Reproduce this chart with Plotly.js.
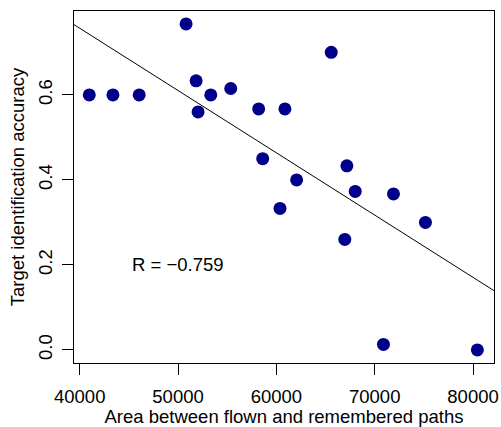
<!DOCTYPE html>
<html>
<head>
<meta charset="utf-8">
<script src="https://cdn.plot.ly/plotly-3.0.1.min.js"></script>
<style>html,body{margin:0;padding:0;background:#fff;}#chart{width:501px;height:427px;}</style>
</head>
<body>
<div id="chart"></div>
<script>
// Data
const areaValues = [40975, 43380, 46050, 50820, 51840, 52040, 53330, 55360, 58200, 60870, 65580,
                    58610, 62060, 67170, 68020, 71910, 60370, 66960, 75160, 70890, 80440];
const accuracyValues = [0.600, 0.600, 0.600, 0.767, 0.633, 0.560, 0.600, 0.615, 0.567, 0.567, 0.700,
                        0.450, 0.400, 0.433, 0.373, 0.367, 0.333, 0.260, 0.300, 0.013, 0.000];
const xTickVals = [40000, 50000, 60000, 70000, 80000];
const yTickVals = [0.0, 0.2, 0.4, 0.6];
const yTickText = ["0.0", "0.2", "0.4", "0.6"];
const corrLabel = "R = \u22120.759";

const xRange = [39421, 82132];
const yRange = [-0.0307, 0.7973];

// least squares fit (like abline(lm(...)))
const n = areaValues.length;
const mx = areaValues.reduce((a, b) => a + b, 0) / n;
const my = accuracyValues.reduce((a, b) => a + b, 0) / n;
let sxy = 0, sxx = 0;
for (let i = 0; i < n; i++) { sxy += (areaValues[i] - mx) * (accuracyValues[i] - my); sxx += (areaValues[i] - mx) ** 2; }
const slope = sxy / sxx, intercept = my - slope * mx;

const font = {family: "Liberation Sans, Arial, sans-serif", size: 18.5, color: "#000"};

const traces = [
  {x: xRange, y: xRange.map(v => intercept + slope * v), mode: "lines", type: "scatter",
   line: {color: "#000", width: 1}, hoverinfo: "skip", cliponaxis: true},
  {x: areaValues, y: accuracyValues, mode: "markers", type: "scatter",
   marker: {color: "#00008B", size: 13}}
];

const layout = {
  width: 501, height: 427,
  margin: {l: 74, r: 7, t: 11, b: 64, pad: 0},
  paper_bgcolor: "#fff", plot_bgcolor: "#fff",
  showlegend: false,
  font: font,
  xaxis: {range: xRange, tickvals: xTickVals, ticktext: xTickVals.map(String),
          showgrid: false, zeroline: false, showline: true, mirror: true, linecolor: "#000", linewidth: 1,
          ticks: "outside", ticklen: 11, tickcolor: "#000", tickwidth: 1, tickfont: font, ticklabelstandoff: 6,
          title: {text: "Area between flown and remembered paths", font: font, standoff: 12}},
  yaxis: {range: yRange, tickvals: yTickVals, ticktext: yTickText, tickangle: -90,
          showgrid: false, zeroline: false, showline: true, mirror: true, linecolor: "#000", linewidth: 1,
          ticks: "outside", ticklen: 11, tickcolor: "#000", tickwidth: 1, tickfont: font, ticklabelstandoff: 3,
          title: {text: "Target identification accuracy", font: font, standoff: 5}},
  annotations: [{x: 50000, y: 0.2, xref: "x", yref: "y", text: corrLabel, showarrow: false,
                 font: font, xanchor: "center", yanchor: "middle"}]
};

Plotly.newPlot("chart", traces, layout, {displayModeBar: false, staticPlot: true});
</script>
</body>
</html>
